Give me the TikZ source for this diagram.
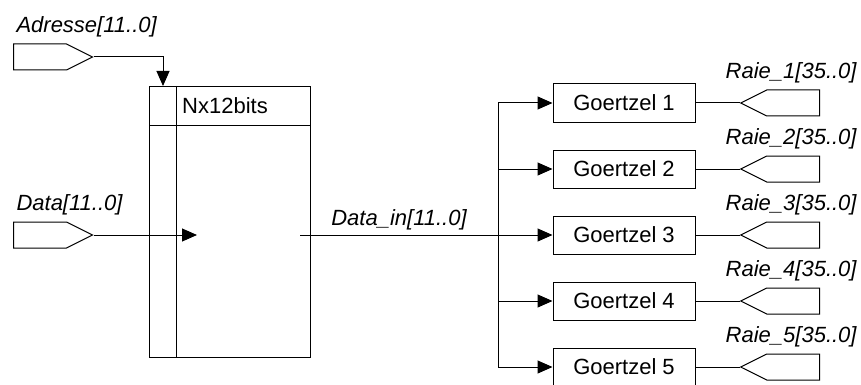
\documentclass[tikz,border=0pt]{standalone}
\usepackage{fontspec}
\setmainfont{Liberation Sans}
\usetikzlibrary{shapes.symbols, arrows.meta, positioning}

\tikzset{
  wire/.style={line width=1pt},
  bus/.style={wire, -{Triangle[length=15pt, width=13pt]}},
  block/.style={draw, line width=1pt, minimum width=142pt, minimum height=38pt, inner sep=0pt},
  portin/.style={draw, line width=1pt, shape=signal, signal to=east, signal from=nowhere,
    signal pointer angle=53, minimum width=79pt, inner xsep=0pt, inner ysep=13pt},
  portout/.style={portin, signal to=west},
  sig/.style={font=\fontsize{22}{26}\selectfont\itshape},
}

\begin{document}
\begin{tikzpicture}[x=1pt, y=-1pt, font=\fontsize{22}{26}\selectfont]
    \useasboundingbox (0,0) rectangle (861,385);

    % input ports
    \node[portin, anchor=west, label={[sig, anchor=base west, yshift=11pt]north west:Adresse[11..0]}] (adr) at (13,57) {};
    \node[portin, anchor=west, label={[sig, anchor=base west, yshift=11pt]north west:Data[11..0]}] (dat) at (13,235) {};

    % memory block
    \node[draw, line width=1pt, minimum width=161pt, minimum height=271pt, anchor=north west, inner sep=0pt] (ram) at (149,86) {};
    \draw[wire] ([xshift=27pt]ram.north west) -- ([xshift=27pt]ram.south west);
    \draw[wire] ([yshift=-39pt]ram.north west) -- ([yshift=-39pt]ram.north east);
    \node[anchor=west, inner sep=0pt] (ramname) at ([xshift=33pt, yshift=-19.5pt]ram.north west) {Nx12bits};
    \coordinate (raddr) at ([xshift=14pt]ram.north west);
    \coordinate (din) at (197,235);
    \coordinate (dout) at (300,235);
    \coordinate (split) at (498,235);

    \draw[bus] (adr.east) -| (raddr);
    \draw[bus] (dat.east) -- (din);

    % goertzel filters
    \foreach \i in {1,...,5} {
        \node[block] (g\i) at (624, 37+66*\i) {Goertzel \i};
        \node[portout, right=44pt of g\i,
              label={[sig, anchor=base east, yshift=11pt, xshift=40pt]north east:Raie\_\i[35..0]}] (r\i) {};
        \draw[wire] (g\i) -- (r\i);
    }

    % data bus
    \draw[wire] (dout) -- node[sig, anchor=base, yshift=10pt, inner sep=0pt] {Data\_in[11..0]} (split);
    \draw[bus] (split) -- (g3.west);
    \foreach \i in {1,2,4,5}
        \draw[bus] (split) |- (g\i.west);

\end{tikzpicture}
\end{document}
